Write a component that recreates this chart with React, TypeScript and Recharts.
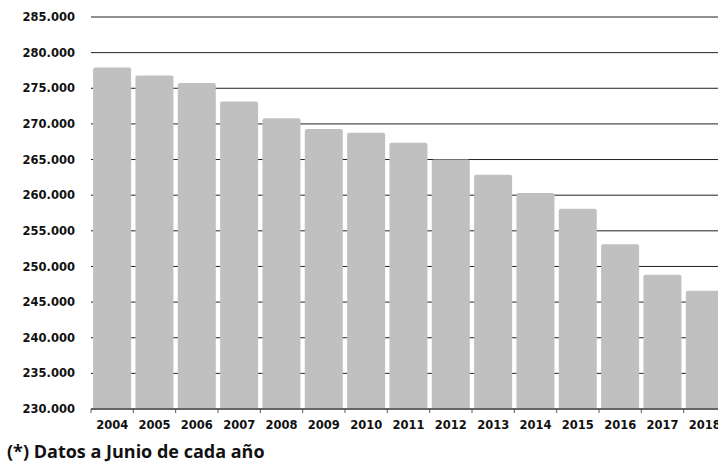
import { Bar, BarChart, CartesianGrid, XAxis, YAxis } from "recharts";

const years = ["2004", "2005", "2006", "2007", "2008", "2009", "2010", "2011", "2012", "2013", "2014", "2015", "2016", "2017", "2018"];
const values = [277900, 276800, 275750, 273150, 270800, 269300, 268750, 267350, 265000, 262850, 260300, 258100, 253100, 248850, 246600];
const yTicks = [230000, 235000, 240000, 245000, 250000, 255000, 260000, 265000, 270000, 275000, 280000, 285000];
const footnote = "(*) Datos a Junio de cada año";

const data = years.map((year, i) => ({ year, value: values[i] }));

const fmt = (v: number) => {
  const s = String(Math.round(v));
  return s.replace(/\B(?=(\d{3})+(?!\d))/g, ".");
};

const labelFont = "'DejaVu Sans', Verdana, sans-serif";

function YearTick(props: any) {
  const { x, y, payload } = props;
  const half = payload?.offset ?? 21;
  return (
    <g>
      <line x1={x - half} x2={x - half} y1={y} y2={y + 4} stroke="#555" strokeWidth={1} />
      <text x={x} y={y + 20} textAnchor="middle" fontFamily={labelFont} fontWeight="bold" fontSize={11.5} fill="#111">
        {payload.value}
      </text>
    </g>
  );
}

export default function App() {
  return (
    <div style={{ position: "fixed", left: 0, top: 0, width: 718, height: 462, overflow: "hidden", background: "#fff" }}>
      <BarChart width={726} height={462} data={data} margin={{ top: 17, right: 0, bottom: 0, left: 0 }} barCategoryGap="5%">
        <CartesianGrid vertical={false} stroke="#222" strokeWidth={1} />
        <XAxis
          dataKey="year"
          height={53}
          tickSize={0}
          tickMargin={0}
          tickLine={false}
          axisLine={{ stroke: "#666", strokeWidth: 2 }}
          tick={<YearTick />}
          interval={0}
        />
        <YAxis
          domain={[230000, 285000]}
          ticks={yTicks}
          width={91}
          axisLine={false}
          tickLine={false}
          tickMargin={10}
          tickFormatter={fmt}
          tick={{ fontFamily: labelFont, fontWeight: "bold", fontSize: 11.5, fill: "#111" }}
          allowDataOverflow
        />
        <Bar dataKey="value" fill="#c0c0c0" radius={[2, 2, 0, 0]} isAnimationActive={false} />
      </BarChart>
      <div
        style={{
          position: "absolute",
          left: 7,
          top: 439,
          fontFamily: "'Open Sans', 'Noto Sans', sans-serif",
          fontWeight: "bold",
          fontSize: 18,
          color: "#111",
          whiteSpace: "nowrap",
        }}
      >
        {footnote}
      </div>
    </div>
  );
}
